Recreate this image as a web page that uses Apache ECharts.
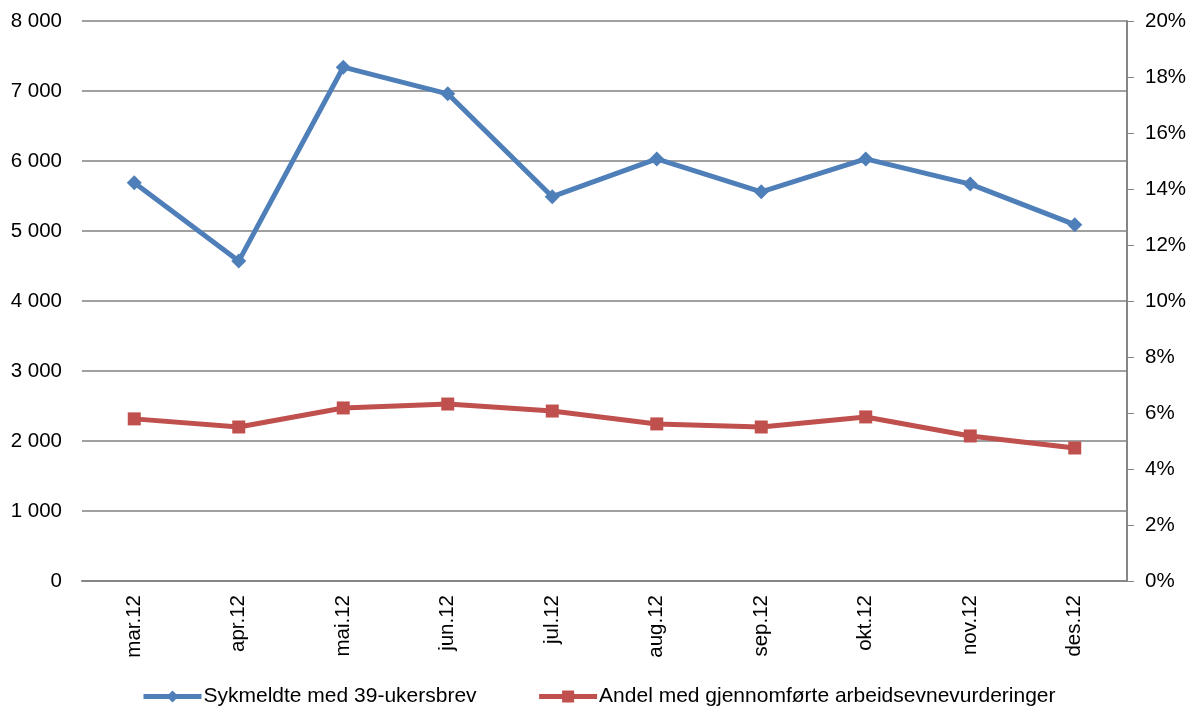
<!DOCTYPE html>
<html>
<head>
<meta charset="utf-8">
<script src="https://cdn.jsdelivr.net/npm/echarts@6/dist/echarts.min.js"></script>
<style>
  html, body { margin: 0; padding: 0; background: #fff; }
  #chart { width: 1192px; height: 708px; }
</style>
</head>
<body>
<div id="chart"></div>
<script>
const months = ['mar.12', 'apr.12', 'mai.12', 'jun.12', 'jul.12', 'aug.12', 'sep.12', 'okt.12', 'nov.12', 'des.12'];
const sykmeldte = [5690, 4570, 7340, 6960, 5490, 6030, 5560, 6030, 5670, 5090];
const andel = [5.79, 5.5, 6.18, 6.32, 6.07, 5.61, 5.5, 5.86, 5.18, 4.75];
const leftTicks = { min: 0, max: 8000, interval: 1000 };
const rightTicks = { min: 0, max: 20, interval: 2 };

var myChart = echarts.init(document.getElementById('chart'));
var font = 'Liberation Sans, Arial, sans-serif';

var option = {
    animation: false,
    textStyle: { fontFamily: font },
    grid: { left: 82, right: 65, top: 21, bottom: 127 },
    legend: {
        top: 681,
        left: 136,
        itemGap: 60,
        itemWidth: 58,
        itemHeight: 15,
        lineStyle: { width: 5 },
        textStyle: { fontSize: 21, color: '#000', fontFamily: font, padding: [0, 0, 0, -3] },
        data: ['Sykmeldte med 39-ukersbrev', 'Andel med gjennomførte arbeidsevnevurderinger']
    },
    xAxis: {
        type: 'category',
        data: months,
        axisLine: { lineStyle: { color: '#868686', width: 2 } },
        axisTick: { show: false },
        axisLabel: { rotate: 90, fontSize: 20.5, color: '#000', margin: 14 }
    },
    yAxis: [{
        type: 'value',
        min: leftTicks.min, max: leftTicks.max, interval: leftTicks.interval,
        axisLine: { show: false },
        axisTick: { show: false },
        splitLine: { lineStyle: { color: '#808080', width: 1.5 } },
        axisLabel: {
            fontSize: 20.5, color: '#000', margin: 20,
            formatter: function (v) { return v >= 1000 ? Math.floor(v / 1000) + ' 000' : String(v); }
        }
    }, {
        type: 'value',
        position: 'right',
        min: rightTicks.min, max: rightTicks.max, interval: rightTicks.interval,
        axisLine: { show: true, lineStyle: { color: '#868686', width: 2 } },
        axisTick: { show: true, length: 7, lineStyle: { color: '#868686' } },
        splitLine: { show: false },
        axisLabel: { fontSize: 20.5, color: '#000', margin: 18, formatter: '{value}%' }
    }],
    series: [{
        name: 'Sykmeldte med 39-ukersbrev',
        type: 'line',
        data: sykmeldte,
        yAxisIndex: 0,
        symbol: 'diamond',
        symbolSize: 15,
        lineStyle: { color: '#4F7FB8', width: 5 },
        itemStyle: { color: '#4F7FB8' }
    }, {
        name: 'Andel med gjennomførte arbeidsevnevurderinger',
        type: 'line',
        data: andel,
        yAxisIndex: 1,
        symbol: 'rect',
        symbolSize: 13,
        lineStyle: { color: '#C0504D', width: 5 },
        itemStyle: { color: '#C0504D' }
    }]
};

myChart.setOption(option);
window.addEventListener('resize', myChart.resize);
</script>
</body>
</html>
